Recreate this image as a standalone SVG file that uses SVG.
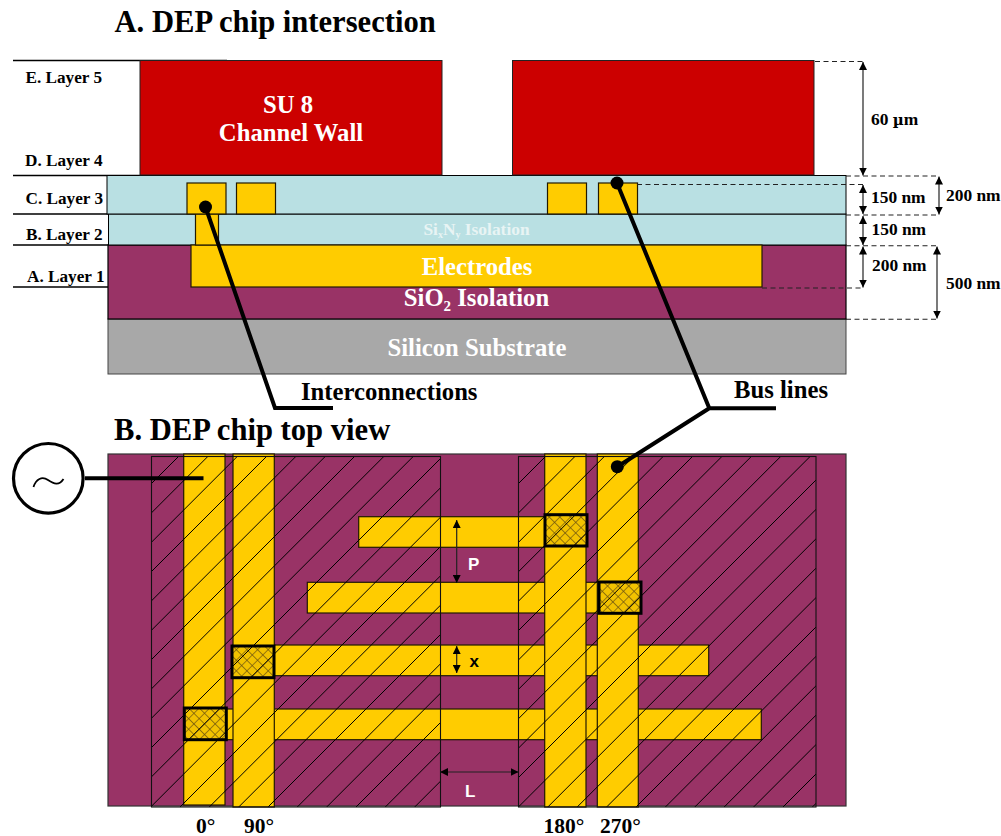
<svg xmlns="http://www.w3.org/2000/svg" width="1001" height="836" viewBox="0 0 1001 836">
<style>
text{font-family:"Liberation Serif","Times New Roman",serif;font-weight:700;fill:#000}
.title{font-size:30.600px}
.lay{font-size:17.200px}
.dim{font-size:17.400px}
.big{font-size:24.700px}
.w{fill:#fff}
.deg{font-size:21.500px}
.sans{font-family:"Liberation Sans",Arial,sans-serif;font-size:17px}
.b{stroke:#000;stroke-width:1.2}
.y{fill:#ffcc00;stroke:#221a00;stroke-width:1.2}
.p{fill:#993366}
.t{fill:#b9e0e3}
.ln{stroke:#000;stroke-width:1.3;fill:none}
.ds{stroke:#222;stroke-width:1.1;stroke-dasharray:5 3.5;fill:none}
.ar{stroke:#222;stroke-width:1.2;fill:none;marker-start:url(#a);marker-end:url(#a)}
.call{stroke:#000;stroke-width:4;fill:none}
.ct{fill:url(#x);stroke:#000;stroke-width:3}
.h{stroke:#000;stroke-width:1;fill:none}
</style>
<defs>
<marker id="a" viewBox="0 0 8 8" refX="8" refY="4" markerUnits="userSpaceOnUse" markerWidth="8" markerHeight="8" orient="auto-start-reverse"><path d="M0 0L8 4L0 8z" fill="#000"/></marker>
<pattern id="x" width="7.500" height="7.500" patternUnits="userSpaceOnUse" patternTransform="translate(3 2) rotate(45)">
<rect width="7.500" height="7.500" fill="#f2c200"/>
<path d="M0 0H7.500M0 0V7.500" stroke="#6b5210" stroke-width="1.300"/>
</pattern>
<clipPath id="cl"><rect x="151.500" y="456.500" width="289" height="350.500"/></clipPath>
<clipPath id="cr"><rect x="518.500" y="456.500" width="297.500" height="350.500"/></clipPath>
</defs>

<g id="titles">
<text class="title" x="114.500" y="31.500">A. DEP chip intersection</text>
<text class="title" x="114" y="440">B. DEP chip top view</text>
</g>

<g id="layer-lines">
<path class="ln" d="M13 60.500H227M13 175.500H227M13 214H227M13 245H227M13 287H227"/>
</g>

<g id="substrate"><rect x="108" y="319" width="738" height="55" fill="#a8a8a8" stroke="#444" stroke-width="1"/>
<text class="big w" x="477" y="355.500" text-anchor="middle">Silicon Substrate</text></g>
<g id="sio2"><rect class="p b" x="108" y="245" width="738" height="74"/></g>
<g id="si3n4"><rect class="t" x="108.500" y="214" width="737.500" height="31" stroke="#000" stroke-width="1"/></g>
<g id="layer3"><rect class="t" x="107" y="175.500" width="739" height="38.500" stroke="#000" stroke-width="1"/></g>
<g id="electrode"><rect class="y" x="191" y="245" width="571" height="42"/>
<text class="big w" x="477" y="275" text-anchor="middle">Electrodes</text></g>
<g id="sio2-label"><text class="big w" x="476.500" y="305.500" text-anchor="middle">SiO<tspan font-size="15" dy="5">2</tspan><tspan dy="-5"> Isolation</tspan></text></g>
<g id="sixny-label"><text x="476.500" y="235" text-anchor="middle" font-size="17.400" style="fill:#e8f4f4">Si<tspan font-size="10" dy="3">x</tspan><tspan dy="-3">N</tspan><tspan font-size="10" dy="3">y</tspan><tspan dy="-3"> Isolation</tspan></text></g>
<g id="via"><rect class="y" x="195.500" y="214" width="23" height="31"/></g>
<g id="bus-sections">
<rect class="y" x="187" y="183" width="39" height="31"/>
<rect class="y" x="236.500" y="183" width="39" height="31"/>
<rect class="y" x="547.500" y="183" width="39" height="31"/>
<rect class="y" x="598.500" y="183" width="39" height="31"/>
</g>
<g id="wall-left"><rect x="140" y="60.500" width="302" height="114.500" fill="#cc0000" stroke="#222" stroke-width="1"/>
<text class="big w" x="288" y="113" text-anchor="middle">SU 8</text>
<text class="big w" x="291" y="141" text-anchor="middle">Channel Wall</text></g>
<g id="wall-right"><rect x="512.500" y="60.500" width="301.500" height="114.500" fill="#cc0000" stroke="#222" stroke-width="1"/></g>

<g id="layer-labels">
<text class="lay" x="25.500" y="83">E. Layer 5</text>
<text class="lay" x="25" y="166">D. Layer 4</text>
<text class="lay" x="25.500" y="204">C. Layer 3</text>
<text class="lay" x="26" y="239.500">B. Layer 2</text>
<text class="lay" x="27" y="281.500">A. Layer 1</text>
</g>

<g id="dimensions">
<path class="ds" d="M815 61.500H863M846 176H938M637 184.500H863M846 215H938M846 245.700H938M762 288H863M846 319.300H938"/>
<path class="ar" d="M863 62V175.500"/>
<path class="ar" d="M863 185V214"/>
<path class="ar" d="M863 216V245"/>
<path class="ar" d="M863 246.500V287.500"/>
<path class="ar" d="M939 176.500V214.500"/>
<path class="ar" d="M937 246.500V318.500"/>
<text class="dim" x="871" y="125">60 <tspan font-family="'DejaVu Serif',serif" font-size="15">µ</tspan>m</text>
<text class="dim" x="871" y="203">150 nm</text>
<text class="dim" x="871.500" y="235">150 nm</text>
<text class="dim" x="872" y="271">200 nm</text>
<text class="dim" x="946" y="201">200 nm</text>
<text class="dim" x="946" y="289">500 nm</text>
</g>

<g id="chip-base"><rect class="p" x="108" y="454" width="738" height="352" stroke="#333" stroke-width="1.200"/></g>
<g id="fingers">
<rect class="y" x="358.700" y="516.700" width="187" height="30.600"/>
<rect class="y" x="307.300" y="582.300" width="292" height="30.700"/>
<rect class="y" x="233" y="645" width="475.700" height="30.700"/>
<rect class="y" x="225" y="709" width="536.300" height="30.700"/>
</g>
<g id="bar-0"><rect class="y" x="183.700" y="454" width="41.300" height="351"/></g>
<g id="bar-90"><rect class="y" x="233" y="454" width="41.300" height="353"/></g>
<g id="bar-180"><rect class="y" x="544.700" y="454" width="41.300" height="353"/></g>
<g id="bar-270"><rect class="y" x="597.300" y="454" width="41" height="353"/></g>
<g id="contacts">
<rect class="ct" x="184.300" y="708" width="42" height="31.700"/>
<rect class="ct" x="232" y="646" width="42" height="31.700"/>
<rect class="ct" x="545" y="514.700" width="42" height="31.300"/>
<rect class="ct" x="599" y="582" width="42" height="31.300"/>
</g>
<g id="hatch-left">
<path class="h" clip-path="url(#cl)" d="M178.500 456.500l-350.500 350.500M207.800 456.500l-350.500 350.500M237.200 456.500l-350.500 350.500M266.500 456.500l-350.500 350.500M295.800 456.500l-350.500 350.500M325.200 456.500l-350.500 350.500M354.500 456.500l-350.500 350.500M383.800 456.500l-350.500 350.500M413.200 456.500l-350.500 350.500M442.500 456.500l-350.500 350.500M471.800 456.500l-350.500 350.500M501.200 456.500l-350.500 350.500M530.500 456.500l-350.500 350.500M559.800 456.500l-350.500 350.500M589.200 456.500l-350.500 350.500M618.500 456.500l-350.500 350.500M647.800 456.500l-350.500 350.500M677.200 456.500l-350.500 350.500M706.500 456.500l-350.500 350.500M735.800 456.500l-350.500 350.500M765.200 456.500l-350.500 350.500"/>
<rect x="151.500" y="456.500" width="289" height="350.500" fill="none" stroke="#111" stroke-width="1.100"/>
</g>
<g id="hatch-right">
<path class="h" clip-path="url(#cr)" d="M545.500 456.500l-350.500 350.500M574.900 456.500l-350.500 350.500M604.300 456.500l-350.500 350.500M633.700 456.500l-350.500 350.500M663.100 456.500l-350.500 350.500M692.500 456.500l-350.500 350.500M721.900 456.500l-350.500 350.500M751.300 456.500l-350.500 350.500M780.700 456.500l-350.500 350.500M810.100 456.500l-350.500 350.500M839.500 456.500l-350.500 350.500M868.900 456.500l-350.500 350.500M898.300 456.500l-350.500 350.500M927.700 456.500l-350.500 350.500M957.100 456.500l-350.500 350.500M986.500 456.500l-350.500 350.500M1015.900 456.500l-350.500 350.500M1045.300 456.500l-350.500 350.500M1074.700 456.500l-350.500 350.500M1104.100 456.500l-350.500 350.500M1133.500 456.500l-350.500 350.500M1162.900 456.500l-350.500 350.500"/>
<rect x="518.500" y="456.500" width="297.500" height="350.500" fill="none" stroke="#111" stroke-width="1.100"/>
</g>

<g id="top-dimensions">
<path class="ar" d="M456.700 520V583"/>
<path class="ar" d="M456.700 646V673"/>
<path class="ar" d="M440 772H518.500"/>
<text class="sans w" x="468" y="569.500">P</text>
<text class="sans" x="469.500" y="667">x</text>
<text class="sans w" x="465" y="796.500">L</text>
</g>

<g id="source">
<circle cx="48.300" cy="478.300" r="34.800" fill="#fff" stroke="#000" stroke-width="3.200"/>
<path d="M33.500 487C36 479 42 476 48 480S59 486 63.500 479" fill="none" stroke="#000" stroke-width="1.800"/>
</g>

<g id="connectors">
<path class="call" d="M85 478.300H203.500"/>
<path class="call" d="M205.500 207L275 408H333"/>
<path class="call" d="M617 183L709.300 408.300H776M709.300 408.300L617.300 466.700"/>
<circle cx="205.500" cy="207" r="6.500"/>
<circle cx="617" cy="183" r="6.500"/>
<circle cx="617.300" cy="466.700" r="6.500"/>
</g>

<g id="callout-labels">
<text class="big" x="301" y="399.500">Interconnections</text>
<text class="big" x="734" y="397.500">Bus lines</text>
</g>

<g id="phase-labels">
<text class="deg" x="196" y="833">0°</text>
<text class="deg" x="244" y="833">90°</text>
<text class="deg" x="543.500" y="833">180°</text>
<text class="deg" x="600" y="833">270°</text>
</g>
</svg>
